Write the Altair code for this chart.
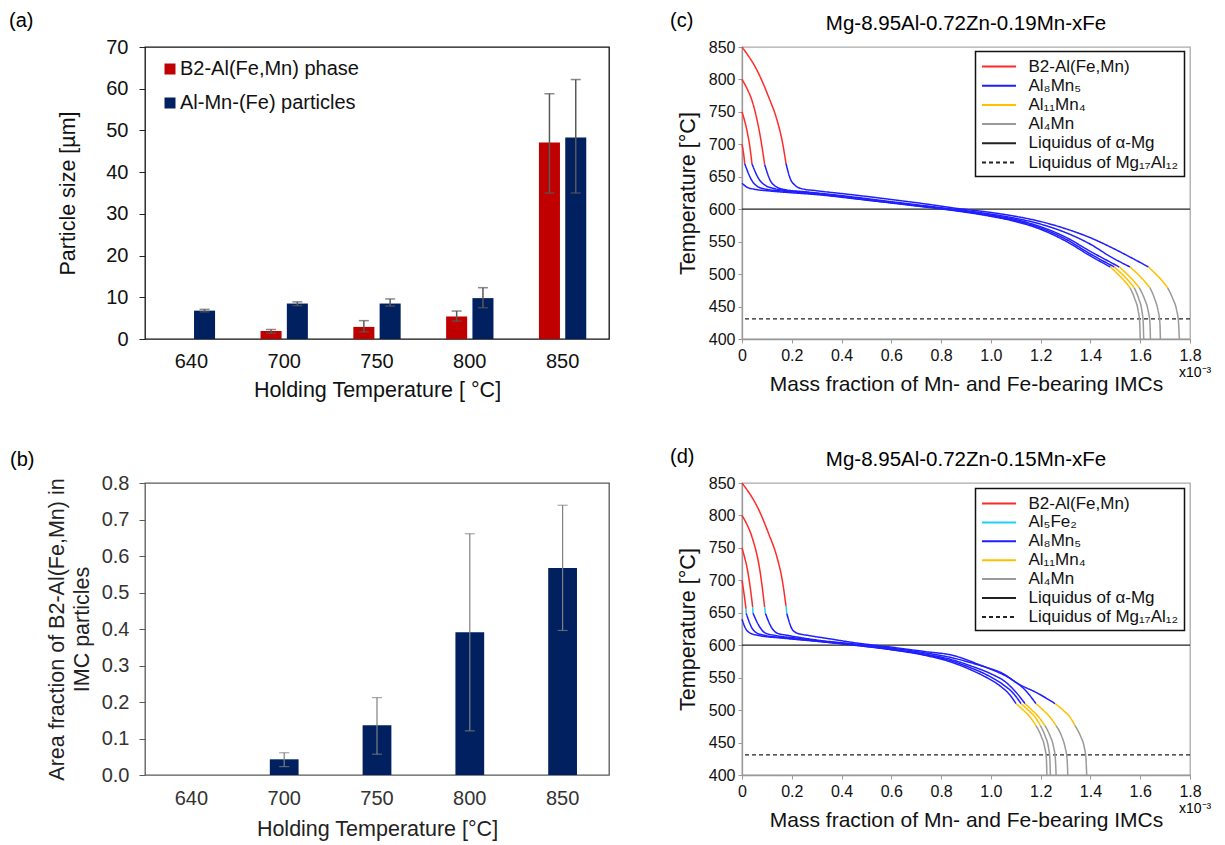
import altair as alt
import pandas as pd

FONT = "Liberation Sans"

# ---------------- panel (a) data ----------------
temps = ["640", "700", "750", "800", "850"]
series_a = ["B2-Al(Fe,Mn) phase", "Al-Mn-(Fe) particles"]
b2_size = [None, 1.9, 2.9, 5.4, 47.1]
b2_lo = [None, 1.35, 1.7, 4.3, 35.0]
b2_hi = [None, 2.3, 4.4, 6.7, 58.8]
almn_size = [6.8, 8.5, 8.5, 9.8, 48.3]
almn_lo = [6.5, 8.0, 7.9, 7.5, 35.0]
almn_hi = [7.1, 8.9, 9.6, 12.3, 62.2]

# ---------------- panel (b) data ----------------
area_frac = [None, 0.043, 0.136, 0.391, 0.567]
area_lo = [None, 0.023, 0.057, 0.121, 0.396]
area_hi = [None, 0.061, 0.212, 0.661, 0.739]
area_ticks = [0.0, 0.1, 0.2, 0.3, 0.4, 0.5, 0.6, 0.7, 0.8]

# ---------------- panel (c) data (x in 1e-3) ----------------
c_phases = ["B2-Al(Fe,Mn)", "Al₈Mn₅", "Al₁₁Mn₄", "Al₄Mn", "Liquidus of α-Mg", "Liquidus of Mg₁₇Al₁₂"]
c_colors = ["#ff2b2b", "#1f1fff", "#ffc000", "#9a9a9a", "#222222", "#222222"]
c_dashes = [[1, 0], [1, 0], [1, 0], [1, 0], [1, 0], [4, 3]]
c_liquidus = [600, 431]

c_640 = [
    ("Al₈Mn₅", [(0, 640), (0.02, 634), (0.054, 630.5), (0.1, 628.5), (0.16, 626.5), (0.3, 622.5), (0.5, 614), (0.7, 605), (0.85, 598), (1.0, 589), (1.1, 581), (1.2, 569), (1.3, 551), (1.4, 528), (1.48, 511)]),
    ("Al₁₁Mn₄", [(1.48, 511), (1.51, 500), (1.54, 488), (1.559, 479)]),
    ("Al₄Mn", [(1.559, 479), (1.578, 462), (1.591, 445), (1.598, 425), (1.600, 400)]),
]
c_700 = [
    ("B2-Al(Fe,Mn)", [(0, 700), (0.0067, 685), (0.011, 670)]),
    ("Al₈Mn₅", [(0.011, 670), (0.040, 644), (0.067, 634), (0.094, 631), (0.15, 628.5), (0.3, 623.5), (0.5, 614.5), (0.7, 605.5), (0.85, 598.5), (1.0, 590), (1.1, 582.5), (1.2, 571), (1.3, 554), (1.4, 531), (1.496, 511)]),
    ("Al₁₁Mn₄", [(1.496, 511), (1.527, 500), (1.557, 488), (1.576, 479)]),
    ("Al₄Mn", [(1.576, 479), (1.594, 462), (1.606, 445), (1.612, 425), (1.614, 400)]),
]
c_750 = [
    ("B2-Al(Fe,Mn)", [(0, 750), (0.010, 737), (0.020, 721), (0.032, 695), (0.040, 670)]),
    ("Al₈Mn₅", [(0.040, 670), (0.067, 647), (0.094, 636.6), (0.134, 631.5), (0.2, 628), (0.3, 624.5), (0.5, 615), (0.7, 606), (0.85, 599), (1.0, 591), (1.1, 584), (1.2, 573), (1.3, 557), (1.4, 535), (1.516, 511)]),
    ("Al₁₁Mn₄", [(1.516, 511), (1.547, 500), (1.577, 488), (1.596, 479)]),
    ("Al₄Mn", [(1.596, 479), (1.617, 462), (1.631, 445), (1.639, 425), (1.641, 400)]),
]
c_800 = [
    ("B2-Al(Fe,Mn)", [(0, 800), (0.02, 786), (0.040, 767.6), (0.074, 711), (0.091, 669)]),
    ("Al₈Mn₅", [(0.091, 669), (0.114, 644), (0.141, 634), (0.174, 630), (0.25, 627), (0.4, 621), (0.55, 614), (0.7, 607), (0.85, 600), (1.0, 592.5), (1.1, 586), (1.2, 577), (1.3, 564), (1.4, 546), (1.48, 527), (1.559, 511)]),
    ("Al₁₁Mn₄", [(1.559, 511), (1.59, 500), (1.62, 488), (1.639, 479)]),
    ("Al₄Mn", [(1.639, 479), (1.658, 462), (1.671, 445), (1.679, 425), (1.681, 400)]),
]
c_850 = [
    ("B2-Al(Fe,Mn)", [(0, 850), (0.067, 809), (0.107, 773), (0.141, 737), (0.161, 706), (0.177, 670)]),
    ("Al₈Mn₅", [(0.177, 670), (0.194, 647), (0.214, 636.6), (0.241, 631.5), (0.3, 628.5), (0.45, 622), (0.6, 615), (0.75, 607.5), (0.85, 602), (1.0, 595), (1.1, 589), (1.2, 581), (1.3, 570), (1.4, 556), (1.5, 538), (1.58, 522), (1.633, 511)]),
    ("Al₁₁Mn₄", [(1.633, 511), (1.663, 500), (1.692, 488), (1.710, 479)]),
    ("Al₄Mn", [(1.710, 479), (1.731, 462), (1.746, 445), (1.754, 425), (1.757, 400)]),
]

# ---------------- panel (d) data (x in 1e-3) ----------------
d_phases = ["B2-Al(Fe,Mn)", "Al₅Fe₂", "Al₈Mn₅", "Al₁₁Mn₄", "Al₄Mn", "Liquidus of α-Mg", "Liquidus of Mg₁₇Al₁₂"]
d_colors = ["#ff2b2b", "#1fd0f5", "#1f1fff", "#ffc000", "#9a9a9a", "#222222", "#222222"]
d_dashes = [[1, 0], [1, 0], [1, 0], [1, 0], [1, 0], [1, 0], [4, 3]]
d_liquidus = [600, 431]

d_640 = [
    ("Al₈Mn₅", [(0, 640), (0.0134, 626.5), (0.033, 618.7), (0.067, 615), (0.16, 611), (0.3, 606), (0.45, 600), (0.6, 593), (0.74, 584), (0.84, 574), (0.92, 562), (0.974, 552), (1.041, 536), (1.075, 524), (1.101, 510)]),
    ("Al₁₁Mn₄", [(1.101, 510), (1.13, 500), (1.16, 488), (1.181, 476)]),
    ("Al₄Mn", [(1.181, 476), (1.202, 460), (1.216, 443), (1.223, 425), (1.225, 400)]),
]
d_700 = [
    ("B2-Al(Fe,Mn)", [(0, 700), (0.008, 680), (0.016, 656)]),
    ("Al₅Fe₂", [(0.016, 656), (0.017, 649)]),
    ("Al₈Mn₅", [(0.017, 649), (0.040, 626.5), (0.060, 618.7), (0.094, 615), (0.18, 611), (0.3, 606.5), (0.45, 600.5), (0.6, 593.5), (0.74, 585), (0.84, 576), (0.92, 565), (0.98, 555), (1.05, 539), (1.09, 526), (1.121, 510)]),
    ("Al₁₁Mn₄", [(1.121, 510), (1.15, 500), (1.18, 488), (1.199, 476)]),
    ("Al₄Mn", [(1.199, 476), (1.218, 460), (1.231, 443), (1.237, 425), (1.239, 400)]),
]
d_750 = [
    ("B2-Al(Fe,Mn)", [(0, 750), (0.010, 736), (0.020, 720), (0.032, 692), (0.043, 658.5)]),
    ("Al₅Fe₂", [(0.043, 658.5), (0.044, 649.5)]),
    ("Al₈Mn₅", [(0.044, 649.5), (0.074, 626.5), (0.094, 618.7), (0.134, 615), (0.22, 611), (0.3, 607), (0.45, 601), (0.6, 594), (0.74, 586), (0.84, 578), (0.92, 568), (1.0, 556), (1.06, 543), (1.10, 528), (1.137, 510)]),
    ("Al₁₁Mn₄", [(1.137, 510), (1.165, 500), (1.195, 488), (1.217, 476)]),
    ("Al₄Mn", [(1.217, 476), (1.238, 460), (1.252, 443), (1.259, 425), (1.262, 400)]),
]
d_800 = [
    ("B2-Al(Fe,Mn)", [(0, 800), (0.02, 786), (0.040, 767), (0.074, 710), (0.091, 658.5)]),
    ("Al₅Fe₂", [(0.091, 658.5), (0.094, 649)]),
    ("Al₈Mn₅", [(0.094, 649), (0.12, 626.5), (0.141, 618.7), (0.187, 615), (0.3, 608), (0.45, 602), (0.6, 595.5), (0.74, 588), (0.84, 581), (0.92, 573), (1.0, 563), (1.08, 548), (1.14, 530), (1.181, 510)]),
    ("Al₁₁Mn₄", [(1.181, 510), (1.21, 500), (1.24, 488), (1.262, 476)]),
    ("Al₄Mn", [(1.262, 476), (1.284, 460), (1.298, 443), (1.306, 425), (1.309, 400)]),
]
d_850 = [
    ("B2-Al(Fe,Mn)", [(0, 850), (0.067, 809), (0.107, 772), (0.141, 735), (0.161, 702), (0.177, 660)]),
    ("Al₅Fe₂", [(0.177, 660), (0.180, 649)]),
    ("Al₈Mn₅", [(0.180, 649), (0.201, 625), (0.221, 618.7), (0.268, 615), (0.35, 610), (0.45, 604), (0.6, 597), (0.74, 590), (0.84, 585), (0.974, 567), (1.05, 556), (1.108, 541), (1.188, 526), (1.258, 510)]),
    ("Al₁₁Mn₄", [(1.258, 510), (1.29, 500), (1.32, 488), (1.338, 476)]),
    ("Al₄Mn", [(1.338, 476), (1.360, 460), (1.375, 443), (1.382, 425), (1.385, 400)]),
]


def curve_frame(curves):
    rows = []
    for name, segs in curves:
        for k, (phase, pts) in enumerate(segs):
            for i, (x, t) in enumerate(pts):
                rows.append({"curve": name, "phase": phase, "seg": f"{name}-{k}", "i": i, "x": x, "T": t})
    return pd.DataFrame(rows)


def label_layer(text, x, y, size=20, align="left", baseline="top"):
    return alt.Chart(pd.DataFrame({"t": [text]})).mark_text(
        align=align, baseline=baseline, fontSize=size, font=FONT, color="black"
    ).encode(text="t:N", x=alt.value(x), y=alt.value(y))


# ---------------- panel (a) ----------------
rows_a = []
for i, t in enumerate(temps):
    if b2_size[i] is not None:
        rows_a.append({"temp": t, "series": series_a[0], "val": b2_size[i], "lo": b2_lo[i], "hi": b2_hi[i]})
    rows_a.append({"temp": t, "series": series_a[1], "val": almn_size[i], "lo": almn_lo[i], "hi": almn_hi[i]})
df_a = pd.DataFrame(rows_a)

xa = alt.X("temp:N", sort=temps,
           scale=alt.Scale(domain=temps, paddingInner=0.49, paddingOuter=0.245),
           axis=alt.Axis(title="Holding Temperature [ °C]", labelAngle=0, labelFontSize=20, labelColor="#111",
                         ticks=False, tickSize=0, domain=False, labelPadding=12, titleFontSize=21.5,
                         titleFontWeight="normal", titleColor="#111", titlePadding=8, labelFont=FONT, titleFont=FONT))
xoa = alt.XOffset("series:N", scale=alt.Scale(domain=series_a, paddingInner=0.2))
ya_axis = alt.Axis(title="Particle size [µm]", values=list(range(0, 71, 10)), labelFontSize=20, labelColor="#111",
                   tickSize=6, tickColor="#222", domain=False, grid=False, labelPadding=11, titleFontSize=21.5,
                   titleFontWeight="normal", titleColor="#111", titlePadding=26, labelFont=FONT, titleFont=FONT,
                   labelFlush=False, labelOverlap=False)
ya_scale = alt.Scale(domain=[0, 70], nice=False)

bars_a = alt.Chart(df_a).mark_bar().encode(
    x=xa, xOffset=xoa,
    y=alt.Y("val:Q", scale=ya_scale, axis=ya_axis),
    color=alt.Color("series:N", scale=alt.Scale(domain=series_a, range=["#C00000", "#002060"]),
                    legend=alt.Legend(title=None, orient="none", legendX=15, legendY=12, symbolType="square",
                                      symbolSize=121, symbolStrokeWidth=0, labelFontSize=20, labelFont=FONT,
                                      labelColor="#111", labelOffset=0, rowPadding=14, padding=0, labelLimit=400)),
)
err_a = alt.Chart(df_a).mark_rule(color="#595959", strokeWidth=1.5).encode(
    x=xa, xOffset=xoa, y=alt.Y("lo:Q", scale=ya_scale, axis=ya_axis), y2="hi:Q")
caplo_a = alt.Chart(df_a).mark_tick(color="#595959", thickness=1.5, size=10).encode(
    x=xa, xOffset=xoa, y=alt.Y("lo:Q", scale=ya_scale, axis=ya_axis))
caphi_a = alt.Chart(df_a).mark_tick(color="#595959", thickness=1.5, size=10).encode(
    x=xa, xOffset=xoa, y=alt.Y("hi:Q", scale=ya_scale, axis=ya_axis))

chart_a = alt.layer(bars_a, err_a, caplo_a, caphi_a, label_layer("(a)", -136, -36)).properties(
    width=464, height=292, view=alt.ViewBackground(stroke="#111", strokeWidth=1.3))

# ---------------- panel (b) ----------------
rows_b = []
for i, t in enumerate(temps):
    if area_frac[i] is not None:
        rows_b.append({"temp": t, "val": area_frac[i], "lo": area_lo[i], "hi": area_hi[i]})
df_b = pd.DataFrame(rows_b)

xb = alt.X("temp:N", sort=temps,
           scale=alt.Scale(domain=temps, paddingInner=0.69, paddingOuter=0.345),
           axis=alt.Axis(title="Holding Temperature [°C]", labelAngle=0, labelFontSize=20, labelColor="#333",
                         ticks=False, tickSize=0, domain=False, labelPadding=13, titleFontSize=21.5,
                         titleFontWeight="normal", titleColor="#222", titlePadding=10, labelFont=FONT, titleFont=FONT))
yb_scale = alt.Scale(domain=[0, 0.8], nice=False)
yb_axis = alt.Axis(title=["Area fraction of B2-Al(Fe,Mn) in", "IMC particles"], values=area_ticks,
                   tickCount=9, format=".1f", labelFontSize=20, labelColor="#333", tickSize=6, tickColor="#595959",
                   domain=False, grid=False, labelPadding=10, titleFontSize=21.5, titleFontWeight="normal",
                   titleColor="#222", titlePadding=8, titleLineHeight=25, labelFont=FONT, titleFont=FONT,
                   labelFlush=False, labelOverlap=False)

bars_b = alt.Chart(df_b).mark_bar(color="#002060").encode(x=xb, y=alt.Y("val:Q", scale=yb_scale, axis=yb_axis))
err_b = alt.Chart(df_b).mark_rule(color="#808080", strokeWidth=1.2).encode(
    x=xb, y=alt.Y("lo:Q", scale=yb_scale, axis=yb_axis), y2="hi:Q")
caplo_b = alt.Chart(df_b).mark_tick(color="#808080", thickness=1.2, size=10).encode(
    x=xb, y=alt.Y("lo:Q", scale=yb_scale, axis=yb_axis))
caphi_b = alt.Chart(df_b).mark_tick(color="#808080", thickness=1.2, size=10).encode(
    x=xb, y=alt.Y("hi:Q", scale=yb_scale, axis=yb_axis))

chart_b = alt.layer(bars_b, err_b, caplo_b, caphi_b, label_layer("(b)", -135, -33)).properties(
    width=464, height=292, view=alt.ViewBackground(stroke="#595959", strokeWidth=1.3))

# legend line symbol: a horizontal stroke twice as long as the row height
LEGEND_STROKE = "M-2,0L2,0"


# ---------------- panels (c), (d) ----------------
def phase_chart(curves, phases, colors, dashes, liquidus, title, tag, legend_y, row_pad):
    df = curve_frame(curves)
    liq = pd.DataFrame({"T": liquidus, "phase": phases[-2:]})
    x_axis = alt.Axis(title="Mass fraction of Mn- and Fe-bearing IMCs", values=[round(i * 0.2, 1) for i in range(10)],
                      labelExpr="datum.value == 0 ? '0' : format(datum.value, '.1f')", labelFontSize=16,
                      labelColor="#111", tickSize=4, tickColor="#999", domainColor="#999", domainWidth=1.3,
                      labelPadding=4, titleFontSize=21, titleFontWeight="normal", titleColor="#111",
                      titlePadding=10, grid=False, labelFlush=False, labelOverlap=False, labelFont=FONT,
                      titleFont=FONT)
    y_axis = alt.Axis(title="Temperature [°C]", values=list(range(400, 851, 50)), labelFontSize=16,
                      labelColor="#111", tickSize=4, tickColor="#999", domainColor="#999", domainWidth=1.3,
                      labelPadding=3, titleFontSize=21.5, titleFontWeight="normal", titleColor="#111",
                      titlePadding=9, grid=False, labelFlush=False, labelOverlap=False, labelFont=FONT,
                      titleFont=FONT)
    xs = alt.Scale(domain=[0, 1.8], nice=False, zero=False)
    ys = alt.Scale(domain=[400, 850], nice=False, zero=False)
    leg = alt.Legend(title=None, orient="none", legendX=233.5, legendY=legend_y, symbolType=LEGEND_STROKE,
                     symbolSize=289, symbolStrokeWidth=2, symbolOffset=8.5, labelFontSize=17, labelFont=FONT,
                     labelColor="#111", labelOffset=20, rowPadding=row_pad, padding=5.5, strokeColor="#111",
                     fillColor="white", labelLimit=400)
    color = alt.Color("phase:N", scale=alt.Scale(domain=phases, range=colors), legend=leg)
    dash = alt.StrokeDash("phase:N", scale=alt.Scale(domain=phases, range=dashes), legend=leg)
    rules = alt.Chart(liq).mark_rule(strokeWidth=1.3).encode(
        y=alt.Y("T:Q", scale=ys, axis=y_axis), color=color, strokeDash=dash)
    lines = alt.Chart(df).mark_line(strokeWidth=1.5, interpolate="monotone").encode(
        x=alt.X("x:Q", scale=xs, axis=x_axis), y=alt.Y("T:Q", scale=ys, axis=y_axis),
        color=color, strokeDash=dash, detail="seg:N", order="i:Q")
    return alt.layer(
        rules, lines,
        label_layer(tag, -72, -36),
        label_layer(title, 224, -17, size=20.5, align="center", baseline="alphabetic"),
        label_layer("x10⁻³", 437, 330, size=14, baseline="alphabetic"),
    ).properties(width=448, height=292, view=alt.ViewBackground(stroke="#aaaaaa", strokeWidth=1.3))


chart_c = phase_chart([("640", c_640), ("700", c_700), ("750", c_750), ("800", c_800), ("850", c_850)],
                      c_phases, c_colors, c_dashes, c_liquidus, "Mg-8.95Al-0.72Zn-0.19Mn-xFe", "(c)", 4.5, 1.2)
chart_d = phase_chart([("640", d_640), ("700", d_700), ("750", d_750), ("800", d_800), ("850", d_850)],
                      d_phases, d_colors, d_dashes, d_liquidus, "Mg-8.95Al-0.72Zn-0.15Mn-xFe", "(d)", 5.5, 0.9)

chart = alt.concat(chart_a, chart_c, chart_b, chart_d, columns=2).properties(
    spacing={"row": 144, "column": 133}, bounds="flush", align="each",
    padding={"left": 8, "top": 10, "right": 5, "bottom": 5},
    background="white",
).configure(font=FONT).configure_legend(strokeWidth=1.5).configure_axis(labelOverlap=False).resolve_scale(
    color="independent", strokeDash="independent")

chart.save("out.html", embed_options={"renderer": "svg", "actions": False})
